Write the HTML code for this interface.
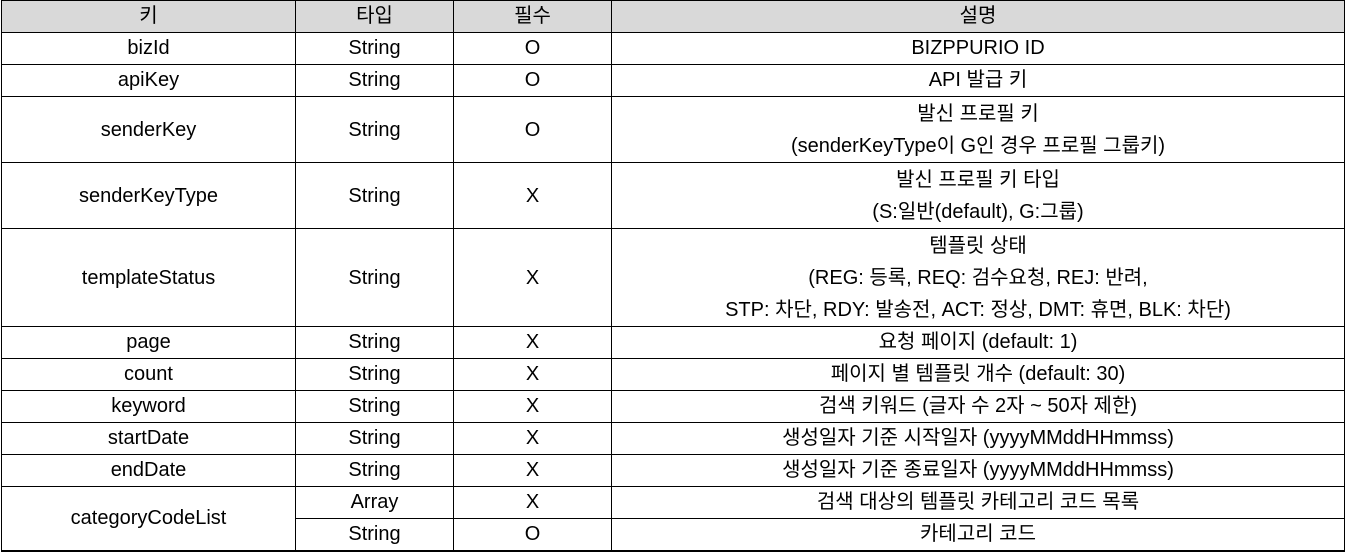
<!DOCTYPE html>
<html><head><meta charset="utf-8">
<style>
html,body{margin:0;padding:0;background:#fff;width:1346px;height:553px;overflow:hidden}
table{position:absolute;left:1px;top:0px;border-collapse:collapse;table-layout:fixed;font-family:"Liberation Sans","Noto Sans CJK KR",sans-serif;font-size:20px;color:#000}
td,th{border:1px solid #000;text-align:center;vertical-align:middle;padding:0;line-height:31px;font-weight:normal;overflow:hidden;box-sizing:border-box}
th{background:#d9d9d9;height:32px}
tr.s td{height:32px}
tr.d td{height:66px;line-height:32px}
tr.t td{height:98px;line-height:32px}
tr.last td{border-bottom:2px solid #000}
</style></head><body>
<table>
<colgroup><col style="width:294px"><col style="width:158px"><col style="width:158px"><col style="width:733px"></colgroup>
<tr><th>키</th><th>타입</th><th>필수</th><th>설명</th></tr>
<tr class="s"><td>bizId</td><td>String</td><td>O</td><td>BIZPPURIO ID</td></tr>
<tr class="s"><td>apiKey</td><td>String</td><td>O</td><td>API 발급 키</td></tr>
<tr class="d"><td>senderKey</td><td>String</td><td>O</td><td>발신 프로필 키<br>(senderKeyType이 G인 경우 프로필 그룹키)</td></tr>
<tr class="d"><td>senderKeyType</td><td>String</td><td>X</td><td>발신 프로필 키 타입<br>(S:일반(default), G:그룹)</td></tr>
<tr class="t"><td>templateStatus</td><td>String</td><td>X</td><td>템플릿 상태<br>(REG: 등록, REQ: 검수요청, REJ: 반려,<br>STP: 차단, RDY: 발송전, ACT: 정상, DMT: 휴면, BLK: 차단)</td></tr>
<tr class="s"><td>page</td><td>String</td><td>X</td><td>요청 페이지 (default: 1)</td></tr>
<tr class="s"><td>count</td><td>String</td><td>X</td><td>페이지 별 템플릿 개수 (default: 30)</td></tr>
<tr class="s"><td>keyword</td><td>String</td><td>X</td><td>검색 키워드 (글자 수 2자 ~ 50자 제한)</td></tr>
<tr class="s"><td>startDate</td><td>String</td><td>X</td><td>생성일자 기준 시작일자 (yyyyMMddHHmmss)</td></tr>
<tr class="s"><td>endDate</td><td>String</td><td>X</td><td>생성일자 기준 종료일자 (yyyyMMddHHmmss)</td></tr>
<tr class="s"><td rowspan="2" style="border-bottom:2px solid #000">categoryCodeList</td><td>Array</td><td>X</td><td>검색 대상의 템플릿 카테고리 코드 목록</td></tr>
<tr class="s last"><td>String</td><td>O</td><td>카테고리 코드</td></tr>
</table>
</body></html>
